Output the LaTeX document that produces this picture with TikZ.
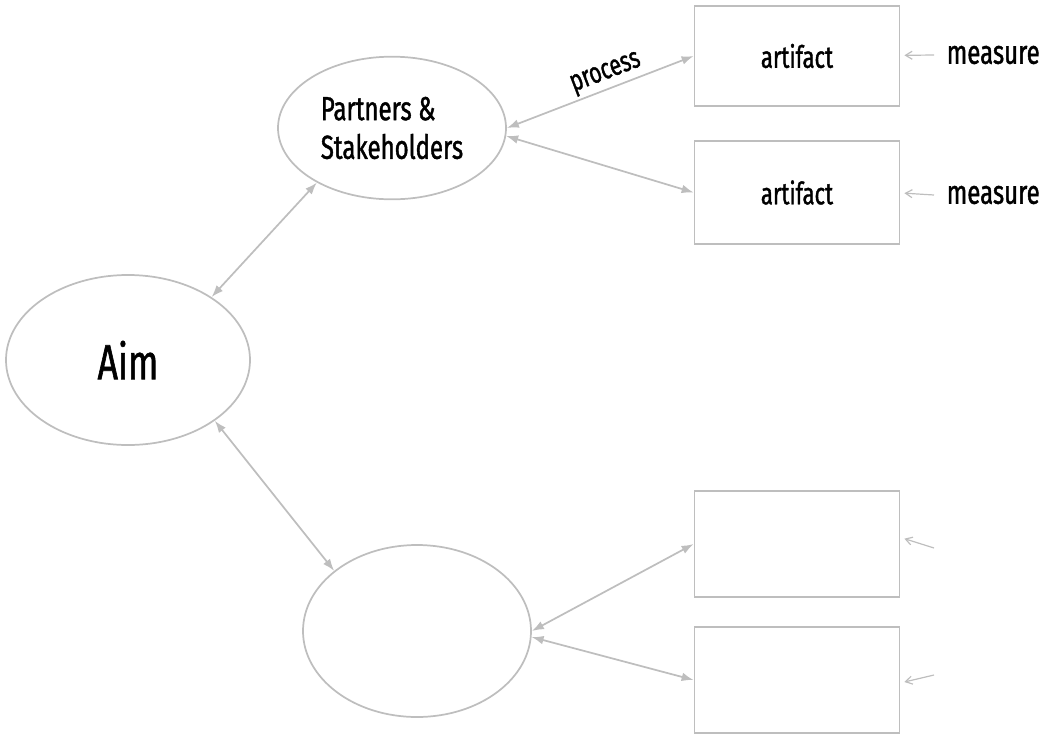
\documentclass[tikz,border=0pt]{standalone}
\usepackage{fontspec}
\setmainfont{Fira Sans}[FakeStretch=0.72,FakeBold=1.2]
\usepackage{tikz}
\usetikzlibrary{shapes.geometric,arrows.meta}
\definecolor{linegray}{RGB}{190,190,190}
\tikzset{
  bubble/.style={ellipse, draw=linegray, line width=1.3pt, inner sep=0pt},
  artbox/.style={rectangle, draw=linegray, line width=1.3pt, minimum width=153.75pt, inner sep=0pt},
  link/.style={draw=linegray, line width=1.3pt, {Latex[length=9pt,width=6.5pt]}-{Latex[length=9pt,width=6.5pt]}},
  feed/.style={draw=linegray, line width=0.9pt, -{Straight Barb[length=5pt,width=6pt]}}
}

\begin{document}
\begin{tikzpicture}[x=0.75pt,y=0.75pt,yscale=-1,xscale=1]
\useasboundingbox (0,0) rectangle (1046,736);

%Shape: Ellipse [aim]
\node [bubble, minimum width=183pt, minimum height=127.5pt, font=\fontsize{37}{42}\selectfont] (aim) at (128,360) {Aim};
%Shape: Ellipse [partners]
\node [bubble, minimum width=171pt, minimum height=107pt, align=left, font=\fontsize{25}{29}\selectfont] (ps) at (392,128) {Partners \&\\Stakeholders};
%Shape: Ellipse [lower]
\node [bubble, minimum width=171pt, minimum height=129pt] (low) at (417,631) {};

%Shape: Rectangle [artifacts]
\node [artbox, minimum height=75pt, font=\fontsize{23}{26}\selectfont] (art1) at (797,56) {artifact};
\node [artbox, minimum height=77pt, font=\fontsize{23}{26}\selectfont] (art2) at (797,192.5) {artifact};
\node [artbox, minimum height=79.5pt] (art3) at (797,544) {};
\node [artbox, minimum height=79.5pt] (art4) at (797,680) {};

%Text: measures
\node [font=\fontsize{25}{28}\selectfont, anchor=west] (m1) at (942,55) {measure};
\node [font=\fontsize{25}{28}\selectfont, anchor=west] (m2) at (942,195) {measure};
\coordinate (m3) at (934,548);
\coordinate (m4) at (934,675);

%Connectors
\draw [link] (aim.37) -- (ps.216);
\draw [link] (aim.-35) -- (low.144);
\draw [link] (ps.east) -- node [pos=0.56, rotate=21, anchor=south, inner sep=2pt, font=\fontsize{22}{24}\selectfont] {process} (art1.west);
\draw [link] (ps.-4) -- (art2.west);
\draw [link] (low.east) -- (art3.west);
\draw [link] (low.-3) -- (art4.west);

%Measure arrows
\draw [feed] ([xshift=-6pt]m1.west) -- ([xshift=3pt,yshift=-0.5pt]art1.east);
\draw [feed] ([xshift=-6pt]m2.west) -- ([xshift=3pt,yshift=0.5pt]art2.east);
\draw [feed] (m3) -- ([xshift=3pt,yshift=-4pt]art3.east);
\draw [feed] (m4) -- ([xshift=3pt,yshift=1.5pt]art4.east);

\end{tikzpicture}
\end{document}
